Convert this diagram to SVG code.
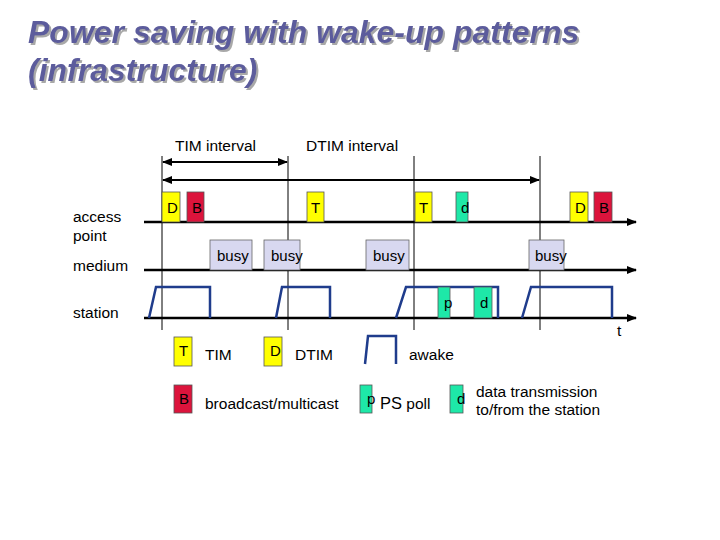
<svg xmlns="http://www.w3.org/2000/svg" width="720" height="540" viewBox="0 0 720 540">
<defs>
<marker id="ah" markerWidth="10" markerHeight="8" refX="9" refY="4" orient="auto" markerUnits="userSpaceOnUse"><path d="M0,0 L10,4 L0,8 Z" fill="#000"/></marker>
<marker id="ahs" markerWidth="10" markerHeight="8" refX="1" refY="4" orient="auto" markerUnits="userSpaceOnUse"><path d="M10,0 L0,4 L10,8 Z" fill="#000"/></marker>
<filter id="sh" x="-5%" y="-20%" width="110%" height="140%"><feDropShadow dx="2" dy="2" stdDeviation="0.6" flood-color="#a8a8a8" flood-opacity="1"/></filter>
<style>
.t{font-family:"Liberation Sans",Arial,sans-serif;font-size:15.5px;fill:#000}
.bx{font-family:"Liberation Sans",Arial,sans-serif;font-size:15px;fill:#000}
.title{font-family:"Liberation Sans",Arial,sans-serif;font-size:32px;font-weight:bold;font-style:italic;fill:#5c5c9c}
.y{fill:#ffff00;stroke:#555;stroke-width:0.8}
.r{fill:#dc143c;stroke:#555;stroke-width:0.8}
.g{fill:#1ee8a8;stroke:#555;stroke-width:0.8}
.busy{fill:#d8d8f0;stroke:#666;stroke-width:0.8}
.ax{stroke:#000;stroke-width:2.5;fill:none}
.vl{stroke:#000;stroke-width:1;fill:none}
.aw{stroke:#1f3c8c;stroke-width:2.5;fill:none}
</style>
</defs>
<rect width="720" height="540" fill="#fff"/>
<g id="title" filter="url(#sh)">
<text class="title" x="28" y="43">Power saving with wake-up patterns</text>
<text class="title" x="28" y="81">(infrastructure)</text>
</g>
<g id="labels">
<text class="t" x="175" y="151">TIM interval</text>
<text class="t" x="306" y="151">DTIM interval</text>
<text class="t" x="73" y="222">access</text>
<text class="t" x="73" y="241">point</text>
<text class="t" x="73" y="271">medium</text>
<text class="t" x="73" y="318">station</text>
<text class="t" x="617" y="336">t</text>
</g>
<g id="connectors">
<line class="vl" x1="162" y1="156" x2="162" y2="330"/>
<line class="vl" x1="288" y1="156" x2="288" y2="330"/>
<line class="vl" x1="414" y1="156" x2="414" y2="330"/>
<line class="vl" x1="540" y1="156" x2="540" y2="330"/>
<line x1="163" y1="162" x2="287" y2="162" stroke="#000" stroke-width="2" marker-start="url(#ahs)" marker-end="url(#ah)"/>
<line x1="163" y1="180" x2="539" y2="180" stroke="#000" stroke-width="2" marker-start="url(#ahs)" marker-end="url(#ah)"/>
<line class="ax" x1="144" y1="222" x2="636" y2="222" marker-end="url(#ah)"/>
<line class="ax" x1="144" y1="270" x2="636" y2="270" marker-end="url(#ah)"/>
<line class="ax" x1="144" y1="318" x2="636" y2="318" marker-end="url(#ah)"/>
</g>
<g id="ap-frames">
<rect class="y" x="162" y="192" width="18" height="30"/><text class="bx" x="167" y="213">D</text>
<rect class="r" x="187" y="192" width="17" height="30"/><text class="bx" x="192" y="213">B</text>
<rect class="y" x="307" y="192" width="17" height="30"/><text class="bx" x="311" y="213">T</text>
<rect class="y" x="415" y="192" width="17" height="30"/><text class="bx" x="419" y="213">T</text>
<rect class="g" x="456" y="192" width="12" height="30"/><text class="bx" x="461" y="213">d</text>
<rect class="y" x="570" y="192" width="18" height="30"/><text class="bx" x="575" y="213">D</text>
<rect class="r" x="594" y="192" width="18" height="30"/><text class="bx" x="599" y="213">B</text>
</g>
<g id="medium-busy">
<rect class="busy" x="210" y="240" width="42" height="30"/><text class="bx" x="217" y="261">busy</text>
<rect class="busy" x="264" y="240" width="36" height="30"/><text class="bx" x="271" y="261">busy</text>
<rect class="busy" x="366" y="240" width="43" height="30"/><text class="bx" x="373" y="261">busy</text>
<rect class="busy" x="529" y="240" width="35" height="30"/><text class="bx" x="535" y="261">busy</text>
</g>
<g id="station">
<path class="aw" d="M149,318 L156,287 L210,287 L210,318"/>
<path class="aw" d="M276,318 L282,287 L330,287 L330,318"/>
<path class="aw" d="M396,318 L406,287 L498,287 L498,318"/>
<path class="aw" d="M522,318 L531,287 L612,287 L612,318"/>
<rect class="g" x="438" y="287" width="12" height="31"/><text class="bx" x="444" y="308">p</text>
<rect class="g" x="474" y="287" width="18" height="31"/><text class="bx" x="480" y="308">d</text>
</g>
<g id="legend">
<rect class="y" x="174" y="337" width="18" height="29"/><text class="bx" x="179" y="356">T</text>
<text class="t" x="205" y="360">TIM</text>
<rect class="y" x="264" y="337" width="18" height="29"/><text class="bx" x="270" y="356">D</text>
<text class="t" x="295" y="360">DTIM</text>
<path class="aw" d="M365,364 L368,336 L396,336 L396,364"/>
<text class="t" x="409" y="360">awake</text>
<rect class="r" x="174" y="385" width="18" height="28"/><text class="bx" x="179" y="404">B</text>
<text class="t" x="205" y="409">broadcast/multicast</text>
<rect class="g" x="360" y="385" width="12" height="28"/><text class="bx" x="367" y="404">p</text>
<text class="t" x="380" y="409"><tspan font-size="16.5">PS</tspan> poll</text>
<rect class="g" x="450" y="385" width="13" height="28"/><text class="bx" x="457" y="404">d</text>
<text class="t" x="476" y="397">data transmission</text>
<text class="t" x="476" y="415">to/from the station</text>
</g>
</svg>
